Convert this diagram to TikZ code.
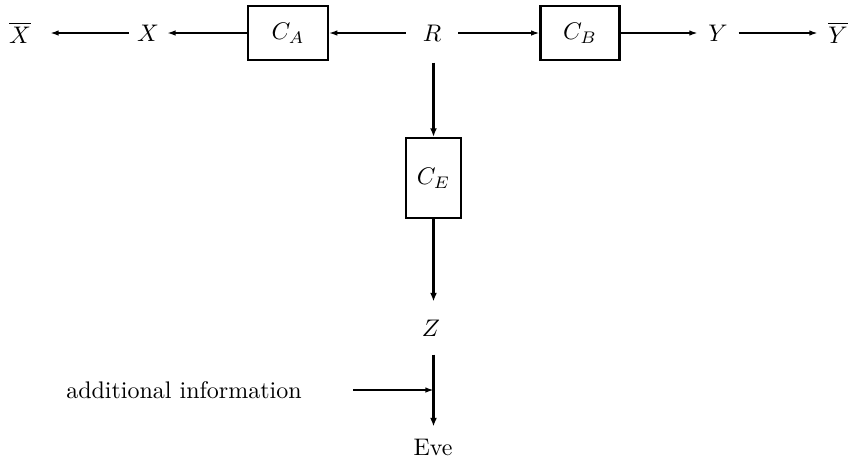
\documentclass[tikz,border=0pt]{standalone}
\usetikzlibrary{arrows.meta}
\begin{document}
\begin{tikzpicture}[x=0.4167pt,y=-0.4167pt,
  box/.style={draw,line width=0.95pt,inner sep=0pt},
  lbl/.style={inner sep=0pt},
  thin/.style={line width=0.55pt,-{Latex[length=3.4pt,width=2.3pt]}},
  thick/.style={line width=1.2pt,-{Latex[length=3.6pt,width=2.9pt]}}]
\useasboundingbox (0,0) rectangle (850,462);
\node[lbl,minimum width=25pt,minimum height=10pt] (Xb) at (20,33) {$\overline{X}$};
\node[lbl,minimum width=15.8pt,minimum height=10pt] (X) at (148,33) {$X$};
\node[box,minimum width=33.3pt,minimum height=22.5pt] (CA) at (288,33) {$C_A$};
\node[lbl,minimum width=21.6pt,minimum height=24.2pt] (R) at (432,33) {$R$};
\node[box,minimum width=33pt,minimum height=22.5pt] (CB) at (580,33) {$C_B$};
\node[lbl,minimum width=16.7pt,minimum height=10pt] (Y) at (718,33) {$Y$};
\node[lbl,minimum width=16.7pt,minimum height=10pt] (Yb) at (838,33) {$\overline{Y}$};
\node[box,minimum width=22.9pt,minimum height=33.3pt] (CE) at (433.5,178) {$C_E$};
\node[lbl,minimum height=21.7pt] (Z) at (431,328) {$Z$};
\node[lbl,minimum height=16.7pt] (Eve) at (433,447) {Eve};
\node[lbl,inner xsep=21.2pt] (info) at (184,390) {additional information};
\coordinate (m) at (433.5,390);
\draw[thin] (X.west) -- (Xb.east);
\draw[thin] (CA.west) -- (X.east);
\draw[thin] (R.west) -- (CA.east);
\draw[thin] (R.east) -- (CB.west);
\draw[thin] (CB.east) -- (Y.west);
\draw[thin] (Y.east) -- (Yb.west);
\draw[thick] (CE.north |- R.south) -- (CE.north);
\draw[thick] (CE.south) -- (CE.south |- Z.north);
\draw[thick] (CE.south |- Z.south) -- (CE.south |- Eve.north);
\draw[thin] (info.east) -- (m);
\end{tikzpicture}
\end{document}
